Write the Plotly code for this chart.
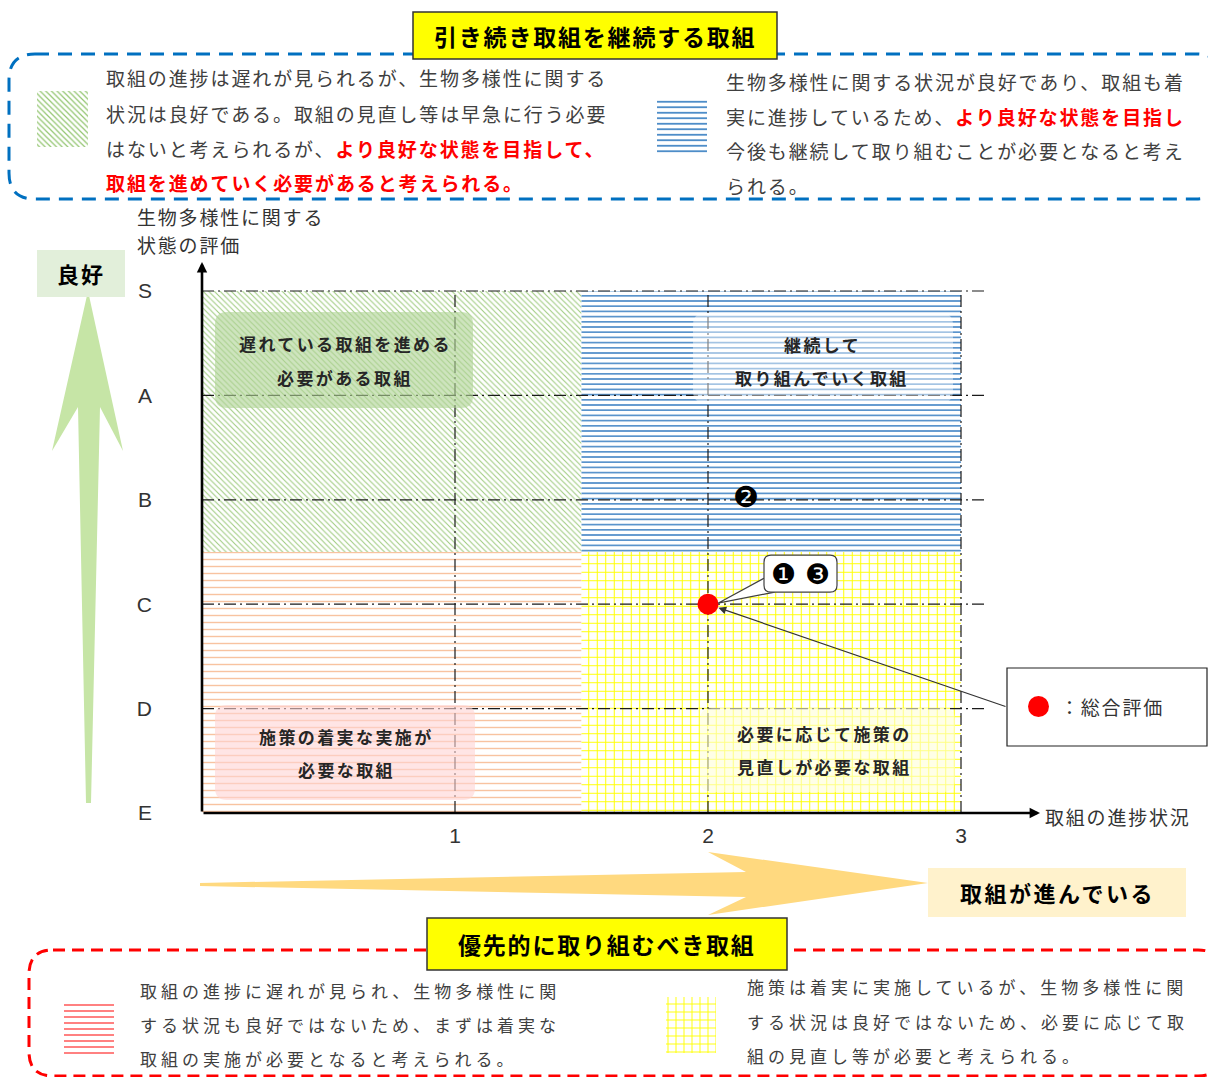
import plotly.graph_objects as go

W, H = 1208, 1077

# ---------------- data ----------------
X_TICKS = [1, 2, 3]
X_TICK_TEXT = ["1", "2", "3"]
Y_LEVELS = ["E", "D", "C", "B", "A", "S"]          # bottom -> top
EVAL_X = [2]
EVAL_LEVEL = ["C"]
EVAL_IDS = ["❶ ❸"]
SUB_X = [2.15]
SUB_LEVEL = ["B"]
SUB_IDS = ["❷"]
X_SPLIT = 1.5
Y_SPLIT = 2.5
X_MAX = 3

ZONE_LABELS = [
    ["遅れている取組を進める", "必要がある取組"],
    ["継続して", "取り組んでいく取組"],
    ["施策の着実な実施が", "必要な取組"],
    ["必要に応じて施策の", "見直しが必要な取組"],
]
TOP_TITLE = "引き続き取組を継続する取組"
BOTTOM_TITLE = "優先的に取り組むべき取組"
RED = "#ff0000"
TOP_LEFT_LINES = [
    "取組の進捗は遅れが見られるが、生物多様性に関する",
    "状況は良好である。取組の見直し等は早急に行う必要",
    "はないと考えられるが、<b><span style='color:#ff0000'>より良好な状態を目指して、</span></b>",
    "<b><span style='color:#ff0000'>取組を進めていく必要があると考えられる。</span></b>",
]
TOP_RIGHT_LINES = [
    "生物多様性に関する状況が良好であり、取組も着",
    "実に進捗しているため、<b><span style='color:#ff0000'>より良好な状態を目指し</span></b>",
    "今後も継続して取り組むことが必要となると考え",
    "られる。",
]
BOTTOM_LEFT_LINES = [
    "取組の進捗に遅れが見られ、生物多様性に関",
    "する状況も良好ではないため、まずは着実な",
    "取組の実施が必要となると考えられる。",
]
BOTTOM_RIGHT_LINES = [
    "施策は着実に実施しているが、生物多様性に関",
    "する状況は良好ではないため、必要に応じて取",
    "組の見直し等が必要と考えられる。",
]

# ---------------- geometry of main axes (pixels) ----------------
X0PX, X1PX, XUNIT = 202, 1040, 253.0
Y0PX, Y1PX, YUNIT = 813, 262, 104.4
XR = [0, (X1PX - X0PX) / XUNIT]
YR = [0, (Y0PX - Y1PX) / YUNIT]


def dpx(x):
    return X0PX + x * XUNIT


def dpy(y):
    return Y0PX - y * YUNIT


FONT = "Noto Sans CJK JP"


def sp(text, ls):
    return f"<span style='letter-spacing:{ls}px'>{text}</span>"


fig = go.Figure()

# ---------------- zones ----------------
ymax = len(Y_LEVELS) - 1
zones = [
    (0, X_SPLIT, Y_SPLIT, ymax, dict(shape="\\", fgcolor="#9fcb80", bgcolor="white", size=4, solidity=0.27)),
    (X_SPLIT, X_MAX, Y_SPLIT, ymax, dict(shape="-", fgcolor="#3a80c2", bgcolor="white", size=5.2, solidity=0.28)),
    (0, X_SPLIT, 0, Y_SPLIT, dict(shape="-", fgcolor="#f8c3a0", bgcolor="white", size=7, solidity=0.2)),
    (X_SPLIT, X_MAX, 0, Y_SPLIT, dict(shape="+", fgcolor="#ffff00", bgcolor="white", size=8.5, solidity=0.22)),
]
for x0, x1, y0, y1, pat in zones:
    fig.add_trace(go.Scatter(
        x=[x0, x1, x1, x0, x0], y=[y0, y0, y1, y1, y0], mode="lines",
        fill="toself", fillcolor="white", fillpattern=pat,
        line=dict(width=0), hoverinfo="skip", showlegend=False))

# ---------------- dash-dot grid ----------------
GRID = dict(color="#1a1a1a", width=1.2, dash="12px,4px,2px,4px")
for i in range(1, len(Y_LEVELS)):
    fig.add_trace(go.Scatter(x=[0, X_MAX + 0.1], y=[i, i], mode="lines", line=GRID,
                             hoverinfo="skip", showlegend=False))
for t in X_TICKS:
    fig.add_trace(go.Scatter(x=[t, t], y=[0, ymax], mode="lines", line=GRID,
                             hoverinfo="skip", showlegend=False))

# ---------------- evaluation point & labels ----------------
ev_y = [Y_LEVELS.index(l) for l in EVAL_LEVEL]
fig.add_trace(go.Scatter(x=EVAL_X, y=ev_y, mode="markers",
                         marker=dict(color=RED, size=21, line=dict(width=0)),
                         hoverinfo="skip", showlegend=False))
sub_y = [Y_LEVELS.index(l) for l in SUB_LEVEL]
fig.add_trace(go.Scatter(x=SUB_X, y=sub_y, mode="text", text=SUB_IDS,
                         textfont=dict(size=29, color="black", family="DejaVu Sans"),
                         hoverinfo="skip", showlegend=False))

# ---------------- overlay pixel axes for decorations ----------------
shapes = []
ann = []


def rrect(x0, y0, x1, y1, r):
    return (f"M{x0+r},{y0} L{x1-r},{y0} Q{x1},{y0} {x1},{y0+r} L{x1},{y1-r} "
            f"Q{x1},{y1} {x1-r},{y1} L{x0+r},{y1} Q{x0},{y1} {x0},{y1-r} "
            f"L{x0},{y0+r} Q{x0},{y0} {x0+r},{y0} Z")


def pshape(path, fill=None, line=None, width=0, dash=None):
    s = dict(type="path", path=path, xref="x2", yref="y2", layer="above",
             line=dict(width=width, color=line or "rgba(0,0,0,0)"))
    if dash:
        s["line"]["dash"] = dash
    if fill:
        s["fillcolor"] = fill
    shapes.append(s)


def rect(x0, y0, x1, y1, fill, line=None, width=0):
    shapes.append(dict(type="rect", x0=x0, x1=x1, y0=y0, y1=y1, xref="x2", yref="y2",
                       layer="above", fillcolor=fill,
                       line=dict(width=width, color=line or "rgba(0,0,0,0)")))


def text(x, y, t, size, color="#404040", xanchor="left", bold=False, ls=0, family=FONT):
    if bold:
        t = f"<b>{t}</b>"
    if ls:
        t = sp(t, ls)
    ann.append(dict(x=x, y=y, xref="x2", yref="y2", text=t, showarrow=False,
                    xanchor=xanchor, yanchor="middle",
                    font=dict(size=size, color=color, family=family)))


# top dashed blue frame
pshape(rrect(9, 54, 1222, 199, 26), line="#0070c0", width=3, dash="14px,9px")
# bottom dashed red frame
pshape(rrect(29, 950, 1222, 1076, 24), line="#ff0000", width=3, dash="12px,7px")

# title boxes
rect(413, 12, 777, 59, "#ffff00", "#333333", 1.5)
text(595, 36, TOP_TITLE, 23, "black", "center", True, 1.8)
rect(427, 918, 787, 970, "#ffff00", "#333333", 1.5)
text(607, 944, BOTTOM_TITLE, 23, "black", "center", True, 1.8)

# top texts
for i, l in enumerate(TOP_LEFT_LINES):
    text(104, [77, 113, 148, 182][i], l, 19, ls=1.9)
for i, l in enumerate(TOP_RIGHT_LINES):
    text(724, [81, 116, 150, 185][i], l, 19, ls=1.9)
for i, l in enumerate(BOTTOM_LEFT_LINES):
    text(138, [990, 1024, 1058][i], l, 17, ls=4)
for i, l in enumerate(BOTTOM_RIGHT_LINES):
    text(745, [986, 1021, 1055][i], l, 17, ls=4)

# zone label boxes
zbox = [
    ((215, 312, 473, 408), "rgba(176,212,150,0.62)"),
    ((693, 313, 953, 403), "rgba(255,255,255,0.45)"),
    ((215, 705, 475, 800), "rgba(255,212,212,0.6)"),
    ((700, 708, 955, 792), "rgba(255,255,215,0.6)"),
]
zcent = [(345, 343, 377), (822, 344, 377), (346, 736, 769), (824, 733, 766)]
for (b, c), (cx, y1, y2), lines in zip(zbox, zcent, ZONE_LABELS):
    pshape(rrect(*b, 12), fill=c)
    text(cx, y1, lines[0], 17, "#262626", "center", True, 2.4)
    text(cx, y2, lines[1], 17, "#262626", "center", True, 2.4)

# legend swatches (pattern-filled, on pixel axes)
swatches = [
    ((37, 91, 88, 147), dict(shape="\\", fgcolor="#92c56f", bgcolor="white", size=4, solidity=0.3)),
    ((657, 98, 707, 153), dict(shape="-", fgcolor="#3a80c2", bgcolor="white", size=5.5, solidity=0.3)),
    ((64, 1003, 114, 1057), dict(shape="-", fgcolor="#ff4040", bgcolor="white", size=6, solidity=0.22)),
    ((666, 997, 716, 1053), dict(shape="+", fgcolor="#ffff00", bgcolor="white", size=8, solidity=0.22)),
]
for (x0, y0, x1, y1), pat in swatches:
    fig.add_trace(go.Scatter(
        x=[x0, x1, x1, x0, x0], y=[y0, y0, y1, y1, y0], mode="lines",
        fill="toself", fillcolor="white", fillpattern=pat, line=dict(width=0),
        xaxis="x2", yaxis="y2", hoverinfo="skip", showlegend=False))

# big green up arrow
pshape("M88,291 L123,451 L100,407 L91,803 L86,803 L78,407 L52,451 Z", fill="#c6e5a6")
rect(37, 250, 125, 297, "#e2efda")
text(81, 273, "良好", 22, "black", "center", True, 2)

# big yellow right arrow
pshape("M200,883 L746,872 L708,852 L928,883 L708,915 L746,897 L200,886 Z", fill="#ffd97f")
rect(928, 868, 1186, 917, "#fff2cc")
text(1057, 892, "取組が進んでいる", 22, "black", "center", True, 2.5)

# axis titles
text(135, 216, "生物多様性に関する", 19, "#333333", ls=1.8)
text(135, 244, "状態の評価", 19, "#333333", ls=1.8)
text(1043, 816, "取組の進捗状況", 19, "#333333", ls=1.8)

# callout for evaluation point
px0, py0 = dpx(EVAL_X[0]), dpy(ev_y[0])
pshape(f"M{px0+58},{py0-27} L{px0+10},{py0-1} L{px0+66},{py0-12} Z",
       fill="white", line="#404040", width=1.2)
pshape(rrect(px0 + 56, py0 - 49, px0 + 129, py0 - 12, 7), fill="white", line="#404040", width=1.2)
text(px0 + 92, py0 - 30, EVAL_IDS[0], 28, "black", "center", family="DejaVu Sans")

# legend box
LX0, LY0, LX1, LY1 = 1007, 668, 1207, 746
rect(LX0, LY0, LX1, LY1, "white", "#222222", 1.2)
shapes.append(dict(type="circle", xref="x2", yref="y2", x0=1028, x1=1049, y0=696, y1=717,
                   fillcolor=RED, line=dict(width=0), layer="above"))
text(1058, 706, "：総合評価", 19, "#333333", ls=1.8)

# arrow from legend to point
ann.append(dict(x=EVAL_X[0], y=ev_y[0], xref="x", yref="y", text="", showarrow=True,
                ax=LX0 - px0, ay=(LY0 + LY1) / 2 - py0, axref="pixel", ayref="pixel",
                arrowhead=2, arrowsize=1.3, arrowwidth=1.2, arrowcolor="#333333", standoff=11))

# axis lines with arrow heads
ann.append(dict(x=0, y=YR[1], xref="x", yref="y", ax=0, ay=0, axref="x", ayref="y",
                text="", showarrow=True, arrowhead=2, arrowsize=0.8, arrowwidth=2.6,
                arrowcolor="black"))
ann.append(dict(x=XR[1], y=0, xref="x", yref="y", ax=0, ay=0, axref="x", ayref="y",
                text="", showarrow=True, arrowhead=2, arrowsize=0.8, arrowwidth=2.6,
                arrowcolor="black"))

fig.update_layout(
    template="none",
    width=W, height=H,
    margin=dict(l=0, r=0, t=0, b=0),
    paper_bgcolor="white", plot_bgcolor="rgba(0,0,0,0)",
    font=dict(family=FONT, color="#333333"),
    showlegend=False,
    shapes=shapes, annotations=ann,
    xaxis=dict(domain=[X0PX / W, X1PX / W], range=XR, showgrid=False, zeroline=False,
               showline=False, ticks="", tickvals=X_TICKS, ticktext=X_TICK_TEXT,
               tickfont=dict(family="Liberation Sans", size=21, color="#333333"),
               ticklabelstandoff=8, automargin=False, fixedrange=True, anchor="y"),
    yaxis=dict(domain=[1 - Y0PX / H, 1 - Y1PX / H], range=YR, showgrid=False, zeroline=False,
               showline=False, ticks="", tickvals=list(range(len(Y_LEVELS))), ticktext=Y_LEVELS,
               tickfont=dict(family="Liberation Sans", size=21, color="#333333"),
               ticklabelstandoff=49, automargin=False, fixedrange=True, anchor="x"),
    xaxis2=dict(domain=[0, 1], range=[0, W], visible=False, anchor="y2", fixedrange=True),
    yaxis2=dict(domain=[0, 1], range=[H, 0], visible=False, anchor="x2", fixedrange=True),
)

fig.write_html("out.html", config={"displayModeBar": False},
               post_script="document.body.style.margin='0';document.body.style.overflow='hidden';")
